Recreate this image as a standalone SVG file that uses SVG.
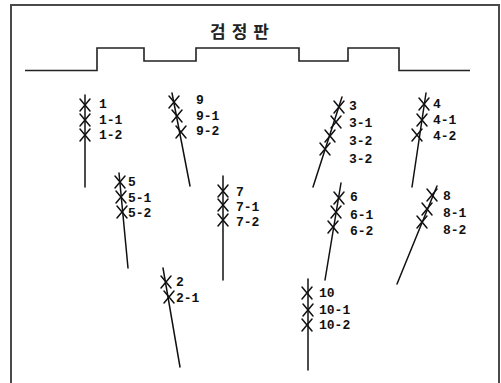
<svg xmlns="http://www.w3.org/2000/svg" width="501" height="383" viewBox="0 0 501 383">
<style>
.frame{fill:none;stroke:#4a4a4a;stroke-width:2}
.prof{fill:none;stroke:#222;stroke-width:1.6}
.drill{fill:none;stroke:#111;stroke-width:1.5;stroke-linecap:round}
.lbl{font-family:"Liberation Mono",monospace;font-weight:bold;font-size:13px;fill:#111}
.title{font-family:"Noto Sans CJK KR","Noto Sans",sans-serif;font-size:17px;font-weight:bold;fill:#222;letter-spacing:6px}
</style>
<defs>
<path id="x" d="M-5,-6 L5,6 M5,-6 L-5,6"/>
</defs>
<rect width="501" height="383" fill="#fff"/>
<path class="frame" d="M11,383 L11,5 L499,5 L499,383"/>
<g id="title"><text class="title" x="210" y="38">검정판</text></g>
<g id="profile"><path class="prof" d="M25,70.5 H97 V48 H144 V61 H196 V48 H299 V61 H348 V48 H399 V70.5 H470"/></g>
<g id="connectors">
<line class="drill" x1="85" y1="95" x2="85" y2="187"/>
<line class="drill" x1="172" y1="93" x2="190" y2="186"/>
<line class="drill" x1="342" y1="97" x2="313" y2="187"/>
<line class="drill" x1="426" y1="93" x2="412" y2="187"/>
<line class="drill" x1="119" y1="173" x2="128" y2="268"/>
<line class="drill" x1="223" y1="176" x2="223" y2="280"/>
<line class="drill" x1="341" y1="183" x2="325" y2="280"/>
<line class="drill" x1="437" y1="186" x2="397" y2="284"/>
<line class="drill" x1="163" y1="268" x2="180" y2="367"/>
<line class="drill" x1="308" y1="279" x2="308" y2="370"/>
</g>
<g id="hole1">
<use href="#x" class="drill" x="85" y="105"/><use href="#x" class="drill" x="85" y="120"/><use href="#x" class="drill" x="85" y="135"/>
<text class="lbl" x="99" y="108">1</text><text class="lbl" x="99" y="124">1-1</text><text class="lbl" x="99" y="139">1-2</text>
</g>
<g id="hole9">
<use href="#x" class="drill" x="174" y="102"/><use href="#x" class="drill" x="177" y="116"/><use href="#x" class="drill" x="181" y="132"/>
<text class="lbl" x="196" y="104">9</text><text class="lbl" x="196" y="120">9-1</text><text class="lbl" x="196" y="135">9-2</text>
</g>
<g id="hole3">
<use href="#x" class="drill" x="339" y="107"/><use href="#x" class="drill" x="336" y="122"/><use href="#x" class="drill" x="330" y="136"/><use href="#x" class="drill" x="325" y="149"/>
<text class="lbl" x="349" y="110">3</text><text class="lbl" x="349" y="127">3-1</text><text class="lbl" x="349" y="145">3-2</text><text class="lbl" x="349" y="163">3-2</text>
</g>
<g id="hole4">
<use href="#x" class="drill" x="424" y="104"/><use href="#x" class="drill" x="422" y="120"/><use href="#x" class="drill" x="417" y="135"/>
<text class="lbl" x="433" y="108">4</text><text class="lbl" x="433" y="124">4-1</text><text class="lbl" x="433" y="140">4-2</text>
</g>
<g id="hole5">
<use href="#x" class="drill" x="120" y="182"/><use href="#x" class="drill" x="121" y="197"/><use href="#x" class="drill" x="122" y="212"/>
<text class="lbl" x="128" y="186">5</text><text class="lbl" x="128" y="202">5-1</text><text class="lbl" x="128" y="217">5-2</text>
</g>
<g id="hole7">
<use href="#x" class="drill" x="223" y="191"/><use href="#x" class="drill" x="223" y="205"/><use href="#x" class="drill" x="223" y="220"/>
<text class="lbl" x="236" y="196">7</text><text class="lbl" x="236" y="211">7-1</text><text class="lbl" x="236" y="226">7-2</text>
</g>
<g id="hole6">
<use href="#x" class="drill" x="339" y="198"/><use href="#x" class="drill" x="336" y="212"/><use href="#x" class="drill" x="333" y="227"/>
<text class="lbl" x="350" y="201">6</text><text class="lbl" x="350" y="219">6-1</text><text class="lbl" x="350" y="235">6-2</text>
</g>
<g id="hole8">
<use href="#x" class="drill" x="432" y="195"/><use href="#x" class="drill" x="427" y="209"/><use href="#x" class="drill" x="422" y="222"/>
<text class="lbl" x="443" y="200">8</text><text class="lbl" x="443" y="217">8-1</text><text class="lbl" x="443" y="234">8-2</text>
</g>
<g id="hole2">
<use href="#x" class="drill" x="166" y="282"/><use href="#x" class="drill" x="169" y="297"/>
<text class="lbl" x="176" y="286">2</text><text class="lbl" x="176" y="302">2-1</text>
</g>
<g id="hole10">
<use href="#x" class="drill" x="307" y="293"/><use href="#x" class="drill" x="308" y="310"/><use href="#x" class="drill" x="307" y="325"/>
<text class="lbl" x="319" y="297">10</text><text class="lbl" x="319" y="314">10-1</text><text class="lbl" x="319" y="329">10-2</text>
</g>
</svg>
